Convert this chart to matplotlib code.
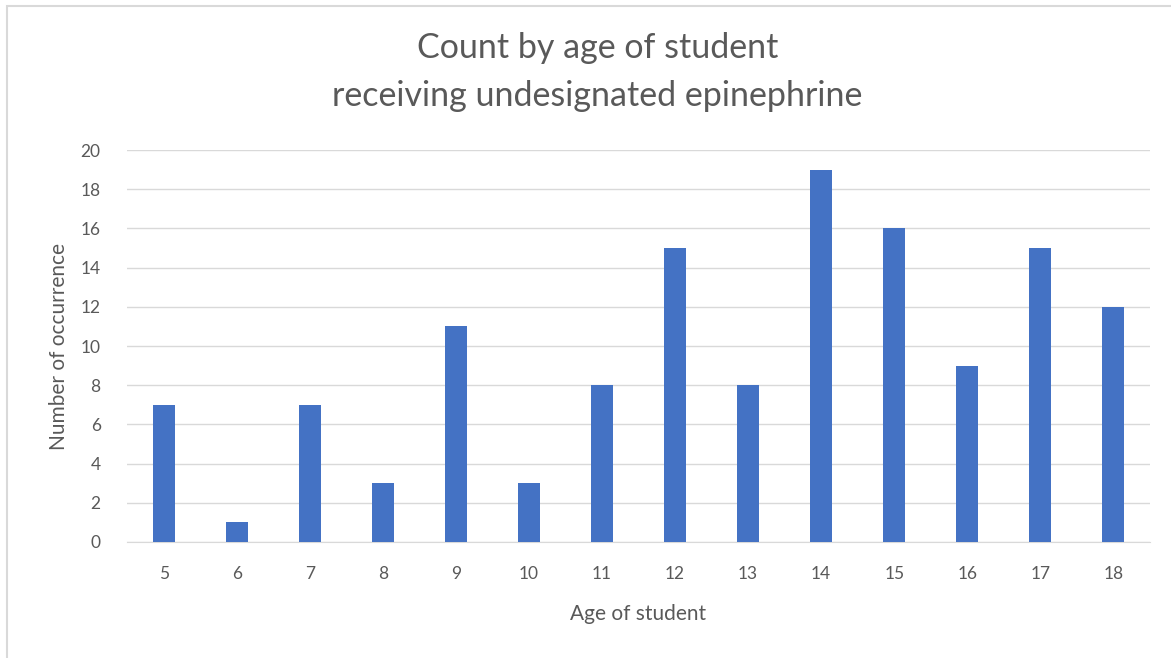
import matplotlib.pyplot as plt
from matplotlib.patches import Rectangle

plt.rcParams['font.family'] = ['Lato', 'DejaVu Sans']

# Data
ages = ['5', '6', '7', '8', '9', '10', '11', '12', '13', '14', '15', '16', '17', '18']
counts = [7, 1, 7, 3, 11, 3, 8, 15, 8, 19, 16, 9, 15, 12]
y_ticks = [0, 2, 4, 6, 8, 10, 12, 14, 16, 18, 20]

text_color = '#595959'
grid_color = '#D9D9D9'

fig = plt.figure(figsize=(11.71, 6.58), dpi=100)
ax = fig.add_axes([0.1085, 0.1763, 0.8735, 0.5957])

x = list(range(len(ages)))
ax.bar(x, counts, width=0.3, color='#4472C4', zorder=3)

ax.set_xlim(-0.5, len(ages) - 0.5)
ax.set_ylim(0, 20)
ax.set_yticks(y_ticks)
ax.set_xticks(x)
ax.set_xticklabels(ages)
ax.grid(axis='y', color=grid_color, linewidth=1, zorder=0)
for s in ['top', 'right', 'left']:
    ax.spines[s].set_visible(False)
ax.spines['bottom'].set_color(grid_color)
ax.tick_params(length=0, colors=text_color, labelsize=12.5)
ax.tick_params(axis='x', pad=17)
ax.tick_params(axis='y', pad=19)

ax.set_xlabel('Age of student', fontsize=15, color=text_color, labelpad=16)
ax.set_ylabel('Number of occurrence', fontsize=15, color=text_color, labelpad=8)

fig.text(0.51, 0.927, 'Count by age of student', ha='center', va='center',
         fontsize=24.5, color=text_color)
fig.text(0.51, 0.854, 'receiving undesignated epinephrine', ha='center', va='center',
         fontsize=24.5, color=text_color)

# chart border
fig.patches.append(Rectangle((7 / 1171, -0.01), 1.0, 1 - 6 / 658 + 0.01,
                             transform=fig.transFigure, fill=False,
                             edgecolor='#D9D9D9', linewidth=1.5))

fig.savefig('out.png', dpi=100)
